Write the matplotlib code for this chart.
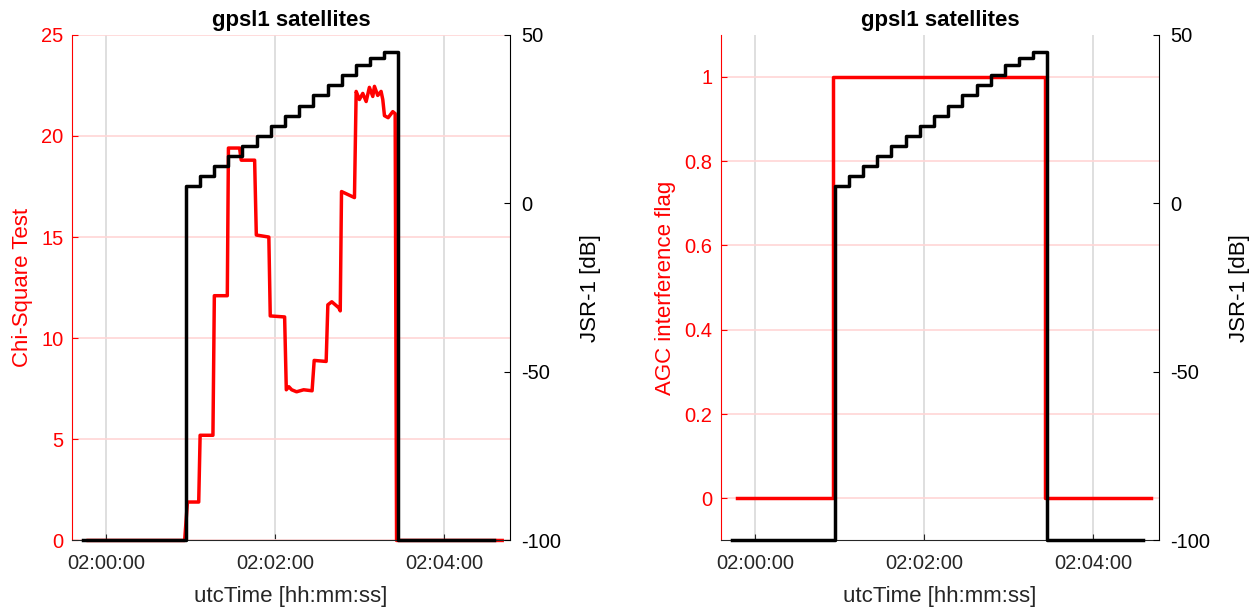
import matplotlib.pyplot as plt

plt.rcParams['font.family'] = ['Liberation Sans', 'DejaVu Sans']
plt.rcParams['axes.unicode_minus'] = False

# time axis in seconds after 02:00:00
time_ticks = [0, 120, 240]
time_labels = ['02:00:00', '02:02:00', '02:04:00']

# JSR-1 in dB, each value holds from its time until the next one
jsr_t = [-17, 56.7, 66.5, 76.5, 86.5, 96.5, 106.7, 116.7, 126.7, 136.8, 147.0,
         157.0, 167.0, 177.3, 187.4, 197.4, 207.0, 275]
jsr_db = [-100, 5, 8, 11, 14, 17, 20, 23, 26, 29, 32, 35, 38, 41, 43, 45, -100, -100]

# chi-square test statistic
chi_t = [-13, 55.5, 57.5, 65.5, 66.5, 75.6, 76.6, 85.8, 86.6, 94.5, 95.7, 105.2,
         106.4, 115.3, 116.3, 126.5, 127.7, 129.5, 131.5, 135.0, 140.0, 146.0,
         147.5, 156.0, 157.2, 160.0, 165.0, 166.0, 166.9, 176.1, 177.3, 179.6,
         182.0, 184.4, 186.7, 189.1, 190.3, 192.6, 195.0, 196.2, 197.4, 200.0,
         203.3, 205.0, 206.0, 281]
chi_val = [0, 0, 1.9, 1.9, 5.2, 5.2, 12.1, 12.1, 19.4, 19.4, 18.8, 18.8,
           15.1, 15.0, 11.1, 11.05, 7.45, 7.6, 7.45, 7.35, 7.45, 7.4,
           8.9, 8.85, 11.65, 11.8, 11.5, 11.35, 17.25, 16.95, 22.2, 21.8,
           22.1, 21.7, 22.4, 21.95, 22.45, 22.0, 22.2, 21.8, 21.0, 20.9,
           21.2, 21.1, 0, 0]

# AGC interference flag
flag_t = [-13, 55.2, 55.2, 205.9, 205.9, 281]
flag_val = [0, 0, 1, 1, 0, 0]

RED = '#ff0000'
AXC = '#262626'

fig = plt.figure(figsize=(12.56, 6.10), dpi=100)


def setup(ax, ylim, yticks, ylabel):
    ax.set_xlim(-24.5, 286.5)
    ax.set_ylim(*ylim)
    ax.set_yticks(yticks)
    ax.set_xticks(time_ticks)
    ax.set_xticklabels(time_labels)
    ax.grid(True, axis='x', color='#d9d9d9', lw=1.2)
    ax.grid(True, axis='y', color='#ffd6d6', lw=1.2)
    ax.set_axisbelow(True)
    ax.spines['top'].set_visible(False)
    ax.spines['right'].set_visible(False)
    ax.spines['left'].set_color(RED)
    ax.spines['bottom'].set_color(AXC)
    ax.tick_params(axis='y', direction='in', length=4, colors=RED, labelsize=14.5, pad=6)
    ax.tick_params(axis='x', direction='in', length=4, colors=AXC, labelsize=14.5, pad=10)
    ax.set_ylabel(ylabel, color=RED, fontsize=16, labelpad=6)
    ax.set_xlabel('utcTime [hh:mm:ss]', color=AXC, fontsize=16, labelpad=9)
    ax.set_title('gpsl1 satellites', fontsize=16, fontweight='bold', pad=6)

    ax2 = ax.twinx()
    ax2.set_ylim(-100, 50)
    ax2.set_yticks([-100, -50, 0, 50])
    for s in ['top', 'left', 'bottom']:
        ax2.spines[s].set_visible(False)
    ax2.spines['right'].set_color('black')
    ax2.tick_params(axis='y', direction='in', length=4, colors='black', labelsize=14.5, pad=8)
    ax2.set_ylabel('JSR-1 [dB]', color='black', fontsize=16, labelpad=14)
    ax2.step(jsr_t, jsr_db, where='post', color='black', lw=2.5, clip_on=False)
    return ax2


ax1 = fig.add_axes([0.0573, 0.114, 0.3487, 0.829])
ax1.plot(chi_t, chi_val, color=RED, lw=2.5, clip_on=False)
setup(ax1, (0, 25), [0, 5, 10, 15, 20, 25], 'Chi-Square Test')

ax3 = fig.add_axes([0.5740, 0.114, 0.3487, 0.829])
ax3.plot(flag_t, flag_val, color=RED, lw=2.5, clip_on=False)
setup(ax3, (-0.1, 1.1), [0, 0.2, 0.4, 0.6, 0.8, 1], 'AGC interference flag')
ax3.set_yticklabels(['0', '0.2', '0.4', '0.6', '0.8', '1'])

fig.savefig('out.png', dpi=100)
